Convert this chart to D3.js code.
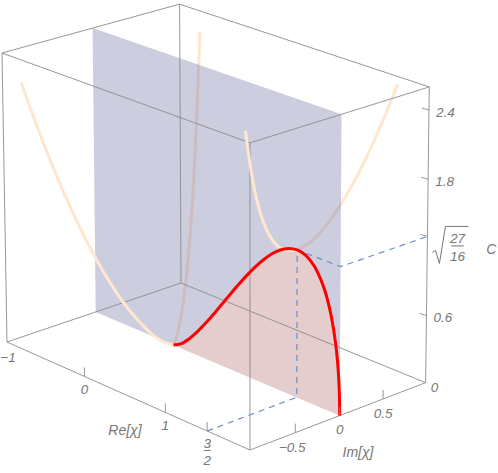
<!DOCTYPE html>
<html><head><meta charset="utf-8">
<script src="https://cdn.jsdelivr.net/npm/d3@7"></script>
<style>html,body{margin:0;padding:0;background:#fff}svg{display:block}
text{font-family:"Liberation Sans",Arial,sans-serif;font-style:italic;fill:#777;font-size:13.5px}</style>
</head><body><svg id="c" width="498" height="473"></svg>
<script>
// Data
const redRe=[0,.1,.2,.3,.4,.5,.6,.7,.8,.9,1,1.1,1.2,1.3,1.4,1.5,1.6,1.7,1.8,1.85,1.9,1.95,1.98,1.99,1.995,2];
const redC=[0,.0436,.12,.2142,.32,.433,.55,.6678,.7838,.8955,1,1.0945,1.1758,1.2401,1.2831,1.299,1.28,1.214,1.08,.9746,.8282,.6089,.394,.2807,.199,0];
const lowRe=[0,-.05,-.1,-.2,-.3,-.4,-.5,-.51,-.525,-.55,-.6,-.65,-.7,-.75];
const lowIm=[0,.0839,.1633,.3117,.45,.5812,.7071,.7194,.738,.7685,.829,.8888,.9478,1.006];
const lowC=[0,.0437,.1216,.3359,.6089,.9313,1.299,1.3382,1.3979,1.4993,1.7102,1.9317,2.1636,2.406];
const highRe=[1.5,1.51,1.525,1.55,1.6,1.65,1.7,1.75,1.79];
const highIm=[0,.1503,.2381,.3382,.4824,.5959,.694,.7826,.8487];
const highC=[1.299,1.3382,1.3979,1.4993,1.7102,1.9317,2.1636,2.406,2.607];
const reTicks=[-1,0,1,1.5];
const imTicks=[-.5,0,.5];
const cTicks=[.6,1.299,1.8,2.4];
const reDomain=[-1,2],imDomain=[-1,1],cDomain=[0,2.6];
const guideRe=[1.5,1.5,1.5,2,2],guideIm=[-1,0,0,0,1],guideC=[0,0,1.299,1.299,1.299];

// Camera: projective map of the unit cube
const U=d3.scaleLinear().domain(reDomain).range([0,1]);
const V=d3.scaleLinear().domain(imDomain).range([0,1]);
const W=d3.scaleLinear().domain(cDomain).range([0,1]);
const O=[7,342],EU=[250,450],EV=[181,283],EW=[2,53];
const al=-.065,be=.04,ga=-.02;
function proj(re,im,c){
  const u=U(re),v=V(im),w=W(c),D=1+al*u+be*v+ga*w;
  const f=i=>(O[i]+u*(EU[i]*(1+al)-O[i])+v*(EV[i]*(1+be)-O[i])+w*(EW[i]*(1+ga)-O[i]))/D;
  return [f(0),f(1)];
}
const svg=d3.select("#c");
const line=d3.line().curve(d3.curveCatmullRom.alpha(.5));
const poly=d3.line();
const GRAY="#8b8b8b";
function edge(a,b){
  svg.append("path").attr("d",poly([proj(...a),proj(...b)])).attr("fill","none").attr("stroke",GRAY).attr("stroke-width",.9);
}
const [r0,r1]=reDomain,[i0,i1]=imDomain,[c0,c1]=cDomain;
const ORANGE="#ffe6cf";
function orange(re,im,c){
  svg.append("path").attr("d",line(re.map((d,i)=>proj(d,im[i],c[i])))).attr("fill","none").attr("stroke",ORANGE).attr("stroke-width",3);
}
// behind the plane
orange(lowRe,lowIm,lowC);
orange(highRe,highIm,highC);
// plane Im = 0
svg.append("path").attr("d",poly([proj(r0,0,c0),proj(r0,0,c1),proj(r1,0,c1),proj(r1,0,c0)])+"Z")
  .attr("fill","rgb(104,104,161)").attr("fill-opacity",.33);
// area below the red curve
svg.append("path").attr("d",line(redRe.map((d,i)=>proj(d,0,redC[i])))+"Z")
  .attr("fill","#e5cdcd");
// box edges
[[[r0,i1,c0],[r0,i1,c1]],[[r0,i1,c0],[r0,i0,c0]],[[r0,i1,c0],[r1,i1,c0]],[[r0,i1,c1],[r0,i0,c1]],[[r0,i1,c1],[r1,i1,c1]],
 [[r0,i0,c0],[r0,i0,c1]],[[r1,i1,c0],[r1,i1,c1]],[[r0,i0,c0],[r1,i0,c0]],[[r1,i0,c0],[r1,i1,c0]],[[r0,i0,c1],[r1,i0,c1]],[[r1,i0,c1],[r1,i1,c1]],[[r1,i0,c0],[r1,i0,c1]]].forEach(e=>edge(...e));
// guide
svg.append("path").attr("d",poly(guideRe.map((d,i)=>proj(d,guideIm[i],guideC[i])))).attr("fill","none")
  .attr("stroke","#6f8fc6").attr("stroke-width",1.2).attr("stroke-dasharray","6 5");
// in front of the plane
orange(lowRe,lowIm.map(d=>-d),lowC);
orange(highRe,highIm.map(d=>-d),highC);
svg.append("path").attr("d",line(redRe.map((d,i)=>proj(d,0,redC[i])))).attr("fill","none").attr("stroke","#f00").attr("stroke-width",3);
// ticks
function tick(p,dx,dy){svg.append("path").attr("d",poly([p,[p[0]+dx,p[1]+dy]])).attr("fill","none").attr("stroke",GRAY).attr("stroke-width",.9);}
function label(t,x,y,a="middle"){return svg.append("text").attr("x",x).attr("y",y).attr("text-anchor",a).text(t);}
const reLab=d=>d===-1?"\u22121":String(d);
reTicks.forEach(d=>{
  const p=proj(d,i0,c0);
  if(d!==-1)tick(p,0,-9);
  if(d!==1.5)label(reLab(d),p[0]+(d===-1?1:0),p[1]+(d===-1?20:18));
  else{
    label("3",p[0],p[1]+17);
    svg.append("path").attr("d",poly([[p[0]-3.5,p[1]+19.5],[p[0]+3.5,p[1]+19.5]])).attr("stroke","#777");
    label("2",p[0],p[1]+34);
  }
});
imTicks.forEach(d=>{
  const p=proj(r1,d,c0);
  tick(p,0,-9);
  label(d<0?"\u2212"+Math.abs(d):String(d),p[0]+(d<0?-3:0),p[1]+(d===0?18:19));
});
cTicks.forEach(d=>{
  const p=proj(r1,i1,d);
  tick(p,-7,-2);
  if(d!==1.299)label(String(d),p[0]+7,p[1]+7,"start");
});
label("0",proj(r1,i1,c0)[0]+9,proj(r1,i1,c0)[1]+9);
// sqrt label
const sp=proj(r1,i1,1.299);
svg.append("path").attr("d",`M${sp[0]+5},${sp[1]+16}l3,-2l4,13l6,-37h23`).attr("fill","none").attr("stroke","#666").attr("stroke-width",.9);
svg.append("text").attr("x",sp[0]+30).attr("y",sp[1]+7).attr("text-anchor","middle").text("27");
svg.append("path").attr("d",`M${sp[0]+23.5},${sp[1]+9.5}h13`).attr("stroke","#777");
svg.append("text").attr("x",sp[0]+30).attr("y",sp[1]+25).attr("text-anchor","middle").text("16");
label("C",sp[0]+64,sp[1]+18).style("font-size","14px");
label("Re[\u03c7]",125,435).style("font-size","14px");
label("Im[\u03c7]",358,457).style("font-size","14px");
</script></body></html>
